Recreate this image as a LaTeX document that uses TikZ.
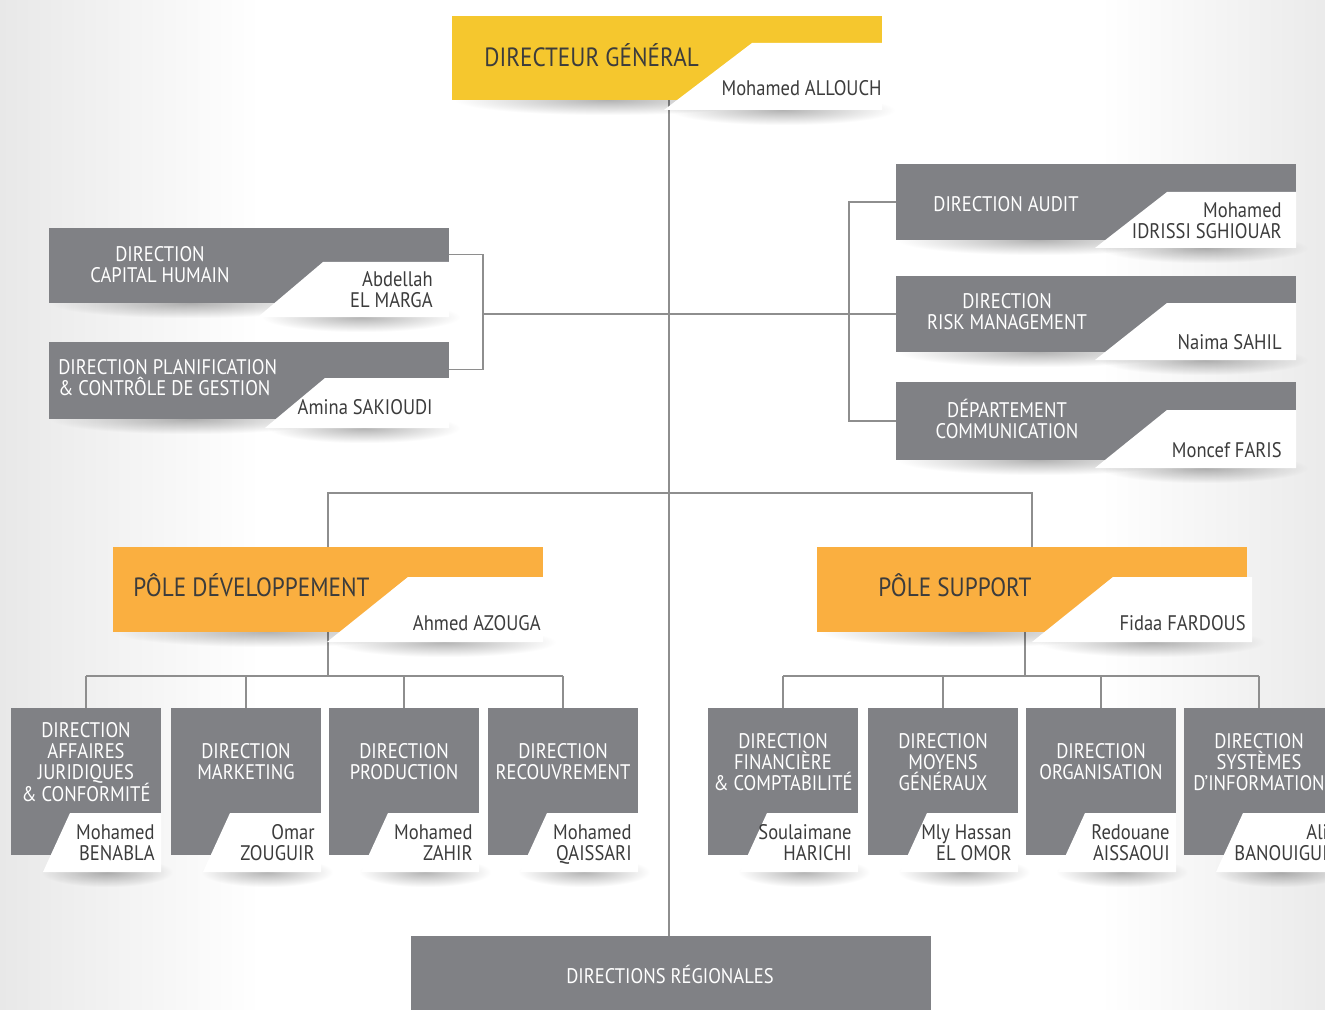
\documentclass[tikz,border=0pt]{standalone}
\usepackage{fontspec}
\setmainfont{PT Sans}[FakeStretch=0.88]
\usetikzlibrary{fit,calc,backgrounds,fadings}

\definecolor{jaune}{HTML}{F5C72E}
\definecolor{poleorange}{HTML}{FAAF40}
\definecolor{gris}{HTML}{808185}
\definecolor{trait}{HTML}{8E8E8E}
\definecolor{texte}{HTML}{3C3C3C}

\tikzfading[name=fondu, inner color=transparent!70, outer color=transparent!100]

% ombre douce sous une boite : x gauche, x droite, y du bas
\newcommand{\ombre}[3]{%
 \fill[black, path fading=fondu] (#1,{#3-15}) rectangle (#2,{#3+15});}
% interligne fixe
\newcommand{\serre}{\lineskiplimit=-20pt\relax}

\tikzset{
 boite/.style={inner sep=0pt, outer sep=0pt},
 carte/.style={fill=white},
 titre/.style={font=\fontsize{12}{12}\selectfont\serre, text=white, align=center, inner sep=0pt},
 chef/.style={font=\fontsize{15}{15}\selectfont, text=texte, anchor=west, inner sep=0pt},
 nom/.style={font=\fontsize{12}{12}\selectfont\serre, text=texte, align=right, anchor=east, inner sep=0pt},
 lien/.style={draw=trait, line width=1.1pt},
}

\begin{document}
\begin{tikzpicture}[x=0.02cm, y=-0.02cm]
 \useasboundingbox (0,0) rectangle (1325,1010);
 \clip (0,0) rectangle (1325,1010);

	% Direction generale
 \ombre{455}{760}{100}
 \node[boite, fill=jaune, fit={(452,16)(882,100)}] (dg) {};
 \ombre{670}{895}{110}
 \fill[carte] (752,43) -- (882,43) -- (882,110) -- (664,110) -- cycle;
 \node[chef] (dgT) at (484,55) {DIRECTEUR GÉNÉRAL};
 \node[nom] (dgN) at (882,88) {Mohamed ALLOUCH};

	% Directions rattachees (gauche)
 \ombre{50}{330}{303}
 \node[boite, fill=gris, fit={(49,228)(449,303)}] (capital) {};
 \ombre{262}{460}{317}
 \fill[carte] (323,262) -- (449,262) -- (449,317) -- (258,317) -- cycle;
 \node[titre] (capitalT) at (160,265) {DIRECTION\\CAPITAL HUMAIN};
 \node[nom] (capitalN) at (433,290) {Abdellah\\EL MARGA};

 \ombre{50}{330}{419}
 \node[boite, fill=gris, fit={(49,342)(449,419)}] (planif) {};
 \ombre{268}{460}{428}
 \fill[carte] (325,378) -- (449,378) -- (449,428) -- (265,428) -- cycle;
 \node[titre, align=left, anchor=west] (planifT) at (58,378) {DIRECTION PLANIFICATION\\\& CONTRÔLE DE GESTION};
 \node[nom] (planifN) at (433,407) {Amina SAKIOUDI};

	% Directions rattachees (droite)
 \ombre{897}{1180}{240}
 \node[boite, fill=gris, fit={(896,164)(1296,240)}] (audit) {};
 \ombre{1100}{1308}{248}
 \fill[carte] (1167,192) -- (1296,192) -- (1296,248) -- (1095,248) -- cycle;
 \node[titre] (auditT) at (1006,204) {DIRECTION AUDIT};
 \node[nom] (auditN) at (1282,221) {Mohamed\\IDRISSI SGHIOUAR};

 \ombre{897}{1180}{352}
 \node[boite, fill=gris, fit={(896,276)(1296,352)}] (risk) {};
 \ombre{1100}{1308}{360}
 \fill[carte] (1167,303) -- (1296,303) -- (1296,360) -- (1095,360) -- cycle;
 \node[titre] (riskT) at (1007,312) {DIRECTION\\RISK MANAGEMENT};
 \node[nom] (riskN) at (1282,342) {Naima SAHIL};

 \ombre{897}{1180}{460}
 \node[boite, fill=gris, fit={(896,382)(1296,460)}] (comm) {};
 \ombre{1100}{1308}{468}
 \fill[carte] (1167,410) -- (1296,410) -- (1296,468) -- (1095,468) -- cycle;
 \node[titre] (commT) at (1007,419) {DÉPARTEMENT\\COMMUNICATION};
 \node[nom] (commN) at (1282,450) {Moncef FARIS};

	% Poles
 \ombre{115}{420}{632}
 \node[boite, fill=poleorange, fit={(113,547)(543,632)}] (dev) {};
 \ombre{332}{556}{642}
 \fill[carte] (408,577) -- (543,577) -- (543,642) -- (327,642) -- cycle;
 \node[chef] (devT) at (133,585) {PÔLE DÉVELOPPEMENT};
 \node[nom] (devN) at (541,623) {Ahmed AZOUGA};

 \ombre{820}{1120}{632}
 \node[boite, fill=poleorange, fit={(817,547)(1247,632)}] (supp) {};
 \ombre{1038}{1265}{642}
 \fill[carte] (1113,577) -- (1252,577) -- (1252,642) -- (1032,642) -- cycle;
 \node[chef] (suppT) at (878,585) {PÔLE SUPPORT};
 \node[nom] (suppN) at (1246,623) {Fidaa FARDOUS};

	% Directions des poles
 \foreach \n/\x/\t/\p in {
   aff/11/{DIRECTION\\AFFAIRES\\JURIDIQUES\\\& CONFORMITÉ}/{Mohamed\\BENABLA},
   mkt/171/{DIRECTION\\MARKETING}/{Omar\\ZOUGUIR},
   prod/329/{DIRECTION\\PRODUCTION}/{Mohamed\\ZAHIR},
   rec/488/{DIRECTION\\RECOUVREMENT}/{Mohamed\\QAISSARI},
   fin/708/{DIRECTION\\FINANCIÈRE\\\& COMPTABILITÉ}/{Soulaimane\\HARICHI},
   moy/868/{DIRECTION\\MOYENS\\GÉNÉRAUX}/{Mly Hassan\\EL OMOR},
   org/1026/{DIRECTION\\ORGANISATION}/{Redouane\\AISSAOUI},
   si/1184/{DIRECTION\\SYSTÈMES\\D’INFORMATION}/{Ali\\BANOUIGUI}} {
  \node[boite, fill=gris, fit={(\x,708)({\x+150},855)}] (\n) {};
  \ombre{\x+30}{\x+162}{872}
  \fill[carte] ({\x+59},813) -- ({\x+150},813) -- ({\x+150},872) -- ({\x+32},872) -- cycle;
  \node[titre] (\n T) at ({\x+75},762) {\t};
  \node[nom, anchor=north east] (\n N) at ({\x+144},824) {\p};
 }

	% Directions regionales
 \node[boite, fill=gris, fit={(411,936)(931,1030)}] (regions) {};
 \node[titre] (regionsT) at (670,974) {DIRECTIONS RÉGIONALES};

	% Liaisons
 \coordinate (gauche) at (483,314);
 \coordinate (droite) at (849,314);
 \coordinate (milieu) at (669,493);
 \coordinate (devbas) at (dev.south |- 0,676);
 \coordinate (suppbas) at (1025,676);
 \begin{scope}[on background layer]
  \fill[white] (0,0) rectangle (1325,1010);
  \shade[left color=gray!18, right color=white] (0,0) rectangle (260,1010);
  \shade[left color=white, right color=gray!16] (1100,0) rectangle (1325,1010);
  \draw[lien] (669,100) -- (669,936);
  \draw[lien] ($(capital.east)+(0,-11)$) -| (gauche) |- ($(planif.east)+(0,-11)$);
  \draw[lien] (gauche) -- (risk.west);
  \draw[lien] (audit.west) -| (droite) |- (comm.west);
  \draw[lien] (dev.north) |- (milieu) -| (supp.north);
  \draw[lien] (dev.south) -- (devbas);
  \draw[lien] (suppbas |- supp.south) -- (suppbas);
  \draw[lien] (aff.north |- devbas) -- (rec.north |- devbas);
  \draw[lien] (fin.north |- suppbas) -- (si.north |- suppbas);
  \foreach \n in {aff,mkt,prod,rec}
   \draw[lien] (\n.north) -- (\n.north |- devbas);
  \foreach \n in {fin,moy,org,si}
   \draw[lien] (\n.north) -- (\n.north |- suppbas);
 \end{scope}

\end{tikzpicture}
\end{document}
